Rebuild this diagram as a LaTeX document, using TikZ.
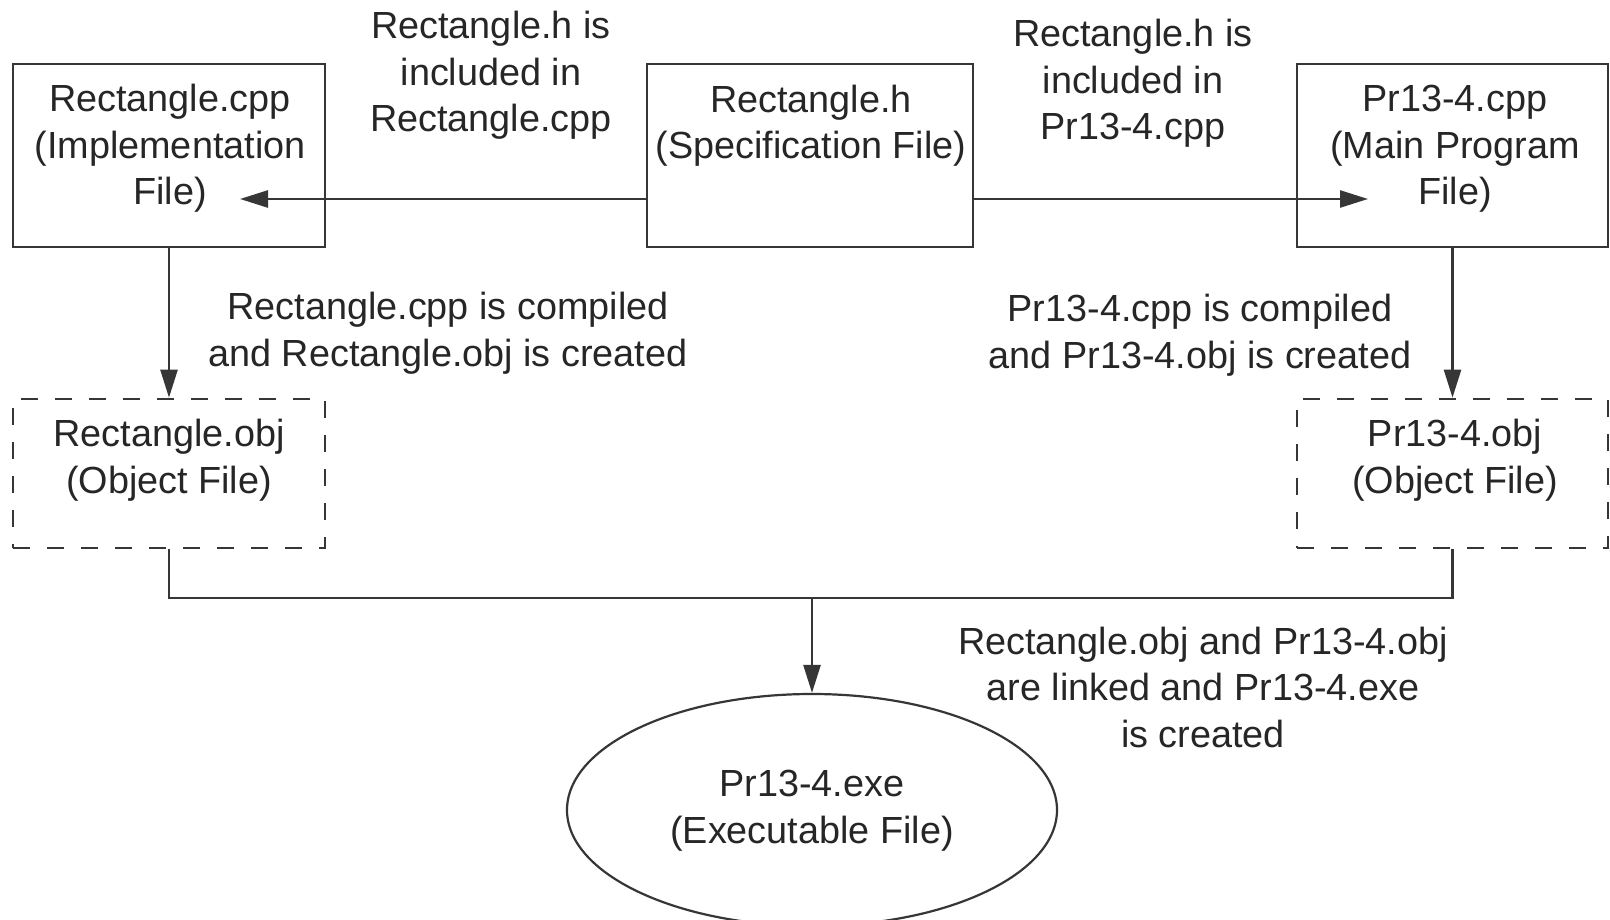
\documentclass[tikz,border=0pt]{standalone}
\usepackage{fontspec}
\setmainfont{Liberation Sans}
\usetikzlibrary{arrows.meta,shapes.geometric}
\definecolor{ink}{HTML}{262626}
\definecolor{linec}{HTML}{363636}
\begin{document}
\begin{tikzpicture}[x=1pt,y=-1pt,
  lbl/.style={font=\fontsize{37.8}{46.5}\selectfont, text=ink, align=center, anchor=base, inner sep=0pt},
  filebox/.style={draw=linec, line width=2.8pt, minimum width=#1, minimum height=183pt, inner sep=0pt},
  objbox/.style={draw=linec, line width=2.6pt, dash pattern=on 17pt off 17pt, minimum width=#1, minimum height=149pt, inner sep=0pt},
  exebox/.style={draw=linec, line width=2.2pt, ellipse, minimum width=490pt, minimum height=232pt, inner sep=0pt},
  conn/.style={draw=linec, line width=2.5pt},
  arr/.style={-{Triangle[length=28pt,width=17pt]}}
]
\useasboundingbox (0,0) rectangle (1610,920);
% boxes
\node[filebox=312pt] (impl) at (169,155.5) {};
\node[filebox=326pt] (spec) at (810,155.5) {};
\node[filebox=311pt] (main) at (1452.5,155.5) {};
\node[objbox=312pt] (robj) at (169,473.5) {};
\node[objbox=311pt] (pobj) at (1452.5,473.5) {};
\node[exebox] (exe) at (812,810) {};
% box texts (anchor = baseline of the last line)
\node[lbl] (implT) at (170,205) {Rectangle.cpp\\(Implementation\\File)};
\node[lbl] (specT) at (811,159) {Rectangle.h\\(Specification File)};
\node[lbl] (mainT) at (1455,205) {Pr13-4.cpp\\(Main Program\\File)};
\node[lbl] (robjT) at (169,493) {Rectangle.obj\\(Object File)};
\node[lbl] (pobjT) at (1455,493) {Pr13-4.obj\\(Object File)};
\node[lbl] (exeT) at (812,843) {Pr13-4.exe\\(Executable File)};
% annotations
\node[lbl] (n1) at (491,132) {Rectangle.h is\\included in\\Rectangle.cpp};
\node[lbl] (n2) at (1133,140) {Rectangle.h is\\included in\\Pr13-4.cpp};
\node[lbl] (n3) at (448,366) {Rectangle.cpp is compiled\\and Rectangle.obj is created};
\node[lbl] (n4) at (1200,368) {Pr13-4.cpp is compiled\\and Pr13-4.obj is created};
\node[lbl] (n5) at (1203,747) {Rectangle.obj and Pr13-4.obj\\are linked and Pr13-4.exe\\is created};
% connectors
\coordinate (aTip) at (240,199);
\coordinate (cTip) at (1368,199);
\coordinate (join) at (812,598);
\draw[conn,arr] (spec.west |- aTip) -- (aTip);
\draw[conn,arr] (spec.east |- cTip) -- (cTip);
\draw[conn,arr] (impl.south) -- (robj.north);
\draw[conn,arr] (main.south) -- (pobj.north);
\draw[conn] (robj.south) -- (robj.south |- join) -- (pobj.south |- join) -- (pobj.south);
\draw[conn,arr] (join) -- (exe.north);
\end{tikzpicture}
\end{document}
